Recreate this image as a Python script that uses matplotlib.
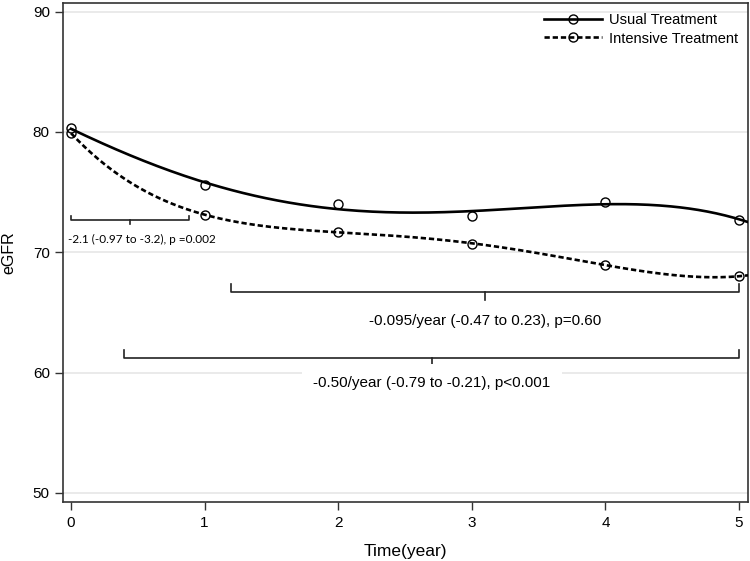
import numpy as np
import matplotlib
matplotlib.use("Agg")
import matplotlib.pyplot as plt

plt.rcParams['font.family'] = ['Liberation Sans', 'DejaVu Sans']

# ── data ─────────────────────────────────────────────────────────────────────
years     = [0, 1, 2, 3, 4, 5]
usual     = [80.3, 75.6, 74.0, 73.0, 74.2, 72.7]
intensive = [79.9, 73.1, 71.7, 70.7, 68.95, 68.0]

# brackets: (x_start, x_end, y, label)
brackets = [
    (0.0, 0.88, 72.65, "-2.1 (-0.97 to -3.2), p =0.002"),
    (1.2, 5.0, 66.7, "-0.095/year (-0.47 to 0.23), p=0.60"),
    (0.4, 5.0, 61.2, "-0.50/year (-0.79 to -0.21), p<0.001"),
]
yticks = [50, 60, 70, 80, 90]
# ─────────────────────────────────────────────────────────────────────────────

fig = plt.figure(figsize=(7.5, 5.61), dpi=100)
ax = fig.add_axes([0.084, 0.1052, 0.9133, 0.8895])

xlo, xhi = -0.06, 5.067
xs = np.linspace(0, xhi, 300)

for ys, ls in [(usual, '-'), (intensive, (0, (2.0, 1.1)))]:
    coef = np.polyfit(years, ys, 4)
    ax.plot(xs, np.polyval(coef, xs), color='black', lw=1.9, linestyle=ls, zorder=3)
    ax.plot(years, ys, linestyle='none', marker='o', ms=6.5, mfc='none',
            mec='black', mew=1.0, zorder=4)

# legend proxies (line with circle in the middle)
h1, = ax.plot([], [], color='black', lw=1.9, marker='o', ms=6.5, mfc='none', mew=1.0)
h2, = ax.plot([], [], color='black', lw=1.9, linestyle=(0, (2.0, 1.1)),
              marker='o', ms=6.5, mfc='none', mew=1.0)
ax.legend([h1, h2], ['Usual Treatment', 'Intensive Treatment'], loc='upper right',
          frameon=False, fontsize=10.5, handlelength=4.0, handletextpad=0.45,
          labelspacing=0.3, borderaxespad=0.3, numpoints=1)

# brackets with labels
end_h, mid_h = 0.65, 0.7
for i, (x0, x1, y, label) in enumerate(brackets):
    xm = (x0 + x1) / 2
    eh = 0.35 if i == 0 else end_h
    mh = 0.3 if i == 0 else mid_h
    ax.plot([x0, x0, x1, x1], [y + eh, y, y, y + eh], color='#222222', lw=1.2, zorder=3)
    ax.plot([xm, xm], [y, y - mh], color='#222222', lw=1.2, zorder=3)
    if i == 0:
        ax.text(-0.02, y - 1.6, label, ha='left', va='center', fontsize=8.5,
                family=['Lato', 'DejaVu Sans'], zorder=5)
    elif i == 1:
        ax.text(xm, y - 2.45, label, ha='center', va='center', fontsize=11, zorder=5)
    else:
        ax.text(xm, y - 2.05, label, ha='center', va='center', fontsize=11, zorder=5,
                bbox=dict(boxstyle='square,pad=0.75', fc='white', ec='none'))

ax.set_xlim(xlo, xhi)
ax.set_ylim(49.24, 90.72)
ax.set_yticks(yticks)
ax.set_xticks(years)
ax.grid(axis='y', color='#e6e6e6', lw=1.2, zorder=0)
ax.set_axisbelow(True)
ax.tick_params(axis='both', direction='out', length=6, width=1.0, labelsize=11,
               color='#333333')
ax.tick_params(axis='x', pad=4)
for s in ax.spines.values():
    s.set_color('#333333')
    s.set_linewidth(1.2)

ax.set_xlabel('Time(year)', fontsize=12.5, labelpad=10)
ax.set_ylabel('eGFR', fontsize=11.5, labelpad=12)

fig.savefig('out.png', dpi=100)
